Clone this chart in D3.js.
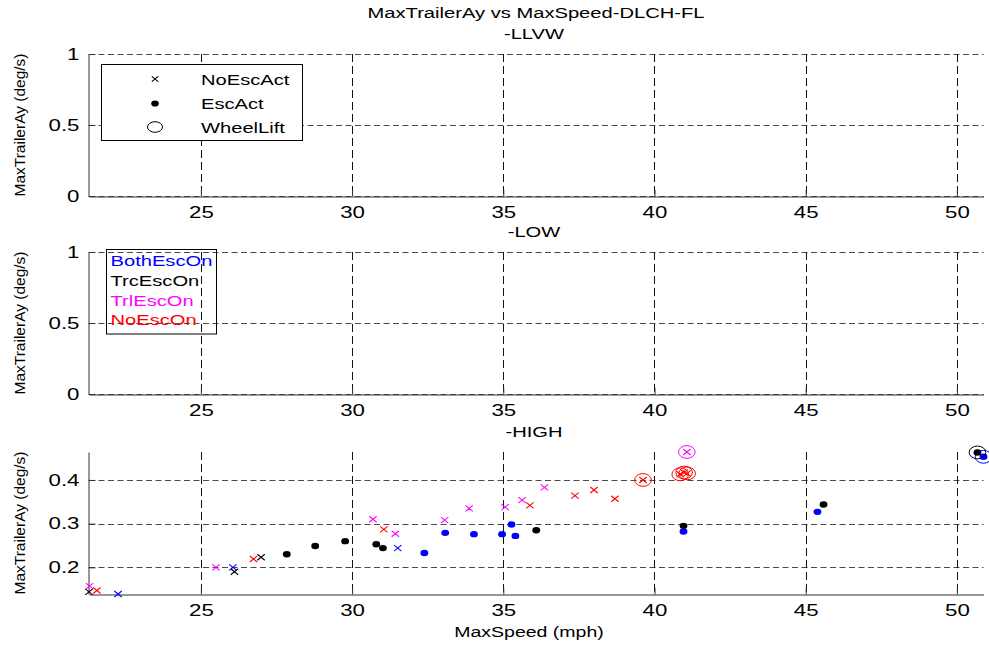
<!DOCTYPE html>
<html>
<head>
<meta charset="utf-8">
<script src="https://cdn.jsdelivr.net/npm/d3@7"></script>
<style>
  html, body { margin: 0; padding: 0; background: #fff; }
  svg { display: block; }
  text { font-family: "Liberation Sans", Arial, Helvetica, sans-serif; fill: #000; }
</style>
</head>
<body>
<svg id="chart" width="989" height="647"></svg>
<script>
// ---- Data: MaxTrailerAy (deg/s) against MaxSpeed (mph), HIGH friction runs ----
// act: 0 = no ESC activation (x), 1 = ESC activation (dot); lift: 1 = wheel lift (circle)
const bothEscOnSpeed = [22.26, 26.06, 31.51, 32.39, 33.08, 34.03, 34.96, 35.27, 35.40, 40.96, 45.39, 50.88];
const bothEscOnAy    = [0.139, 0.200, 0.244, 0.233, 0.279, 0.276, 0.276, 0.298, 0.272, 0.282, 0.327, 0.453];
const bothEscOnAct   = [0, 0, 0, 1, 1, 1, 1, 1, 1, 1, 1, 1];
const bothEscOnLift  = [0, 0, 0, 0, 0, 0, 0, 0, 0, 0, 0, 1];

const trcEscOnSpeed = [21.30, 26.11, 26.99, 27.84, 28.78, 29.77, 30.80, 31.02, 36.09, 40.96, 45.59, 50.68];
const trcEscOnAy    = [0.144, 0.190, 0.223, 0.230, 0.249, 0.260, 0.253, 0.244, 0.285, 0.295, 0.344, 0.463];
const trcEscOnAct   = [0, 0, 0, 1, 1, 1, 1, 1, 1, 1, 1, 1];
const trcEscOnLift  = [0, 0, 0, 0, 0, 0, 0, 0, 0, 0, 0, 1];

const trlEscOnSpeed = [21.32, 25.50, 30.69, 31.43, 33.06, 33.87, 35.06, 35.62, 36.36, 41.07];
const trlEscOnAy    = [0.157, 0.200, 0.310, 0.277, 0.308, 0.335, 0.338, 0.354, 0.383, 0.464];
const trlEscOnAct   = [0, 0, 0, 0, 0, 0, 0, 0, 0, 0];
const trlEscOnLift  = [0, 0, 0, 0, 0, 0, 0, 0, 0, 1];

const noEscOnSpeed = [21.56, 26.74, 31.05, 35.88, 37.37, 38.00, 38.69, 39.62, 40.85, 40.98, 41.08];
const noEscOnAy    = [0.147, 0.219, 0.287, 0.342, 0.364, 0.377, 0.357, 0.400, 0.413, 0.417, 0.415];
const noEscOnAct   = [0, 0, 0, 0, 0, 0, 0, 0, 0, 0, 0];
const noEscOnLift  = [0, 0, 0, 0, 0, 0, 0, 1, 1, 1, 1];

const seriesNames  = ["BothEscOn", "TrcEscOn", "TrlEscOn", "NoEscOn"];
const seriesColors = ["#0000ff", "#000000", "#ff00ff", "#ff0000"];
const markerNames  = ["NoEscAct", "EscAct", "WheelLift"];

const panelTitles = ["-LLVW", "-LOW", "-HIGH"];
const xTicks = [25, 30, 35, 40, 45, 50];
const yTicksUnit = [0, 0.5, 1];
const yTicksHigh = [0.2, 0.3, 0.4];

// ---- Layout ----
const svg = d3.select("#chart");
const left = 89, right = 983.5;
const panelTop = [54, 252, 452];
const panelH = 142;
const SX = 1.3;       // horizontal glyph stretch used for every label
const TICK_SX = 1.35;

const series = [
  {speed: bothEscOnSpeed, ay: bothEscOnAy, act: bothEscOnAct, lift: bothEscOnLift},
  {speed: trcEscOnSpeed,  ay: trcEscOnAy,  act: trcEscOnAct,  lift: trcEscOnLift},
  {speed: trlEscOnSpeed,  ay: trlEscOnAy,  act: trlEscOnAct,  lift: trlEscOnLift},
  {speed: noEscOnSpeed,   ay: noEscOnAy,   act: noEscOnAct,   lift: noEscOnLift}
];
const points = [];
series.forEach((s, si) => s.speed.forEach((v, i) =>
  points.push({x: v, y: s.ay[i], act: s.act[i], lift: s.lift[i], color: seriesColors[si]})));

// Tight limits around the data, shared by all three panels along x
const x = d3.scaleLinear().domain(d3.extent(points, d => d.x)).range([left, right]);

function stretched(g, str, px, py, size, anchor, sx) {
  return g.append("text")
    .attr("transform", `translate(${px},${py}) scale(${sx || SX},1)`)
    .attr("text-anchor", anchor || "middle")
    .style("font-size", size + "px")
    .text(str);
}

function drawPanel(idx, yDomain, yTicks, yFmt) {
  const top = panelTop[idx], bottom = top + panelH;
  const y = d3.scaleLinear().domain(yDomain).range([bottom, top]);
  const g = svg.append("g");

  // grid
  g.append("g").selectAll("line").data(yTicks).join("line")
    .attr("x1", left).attr("x2", right)
    .attr("y1", d => Math.round(y(d)) + 0.5).attr("y2", d => Math.round(y(d)) + 0.5)
    .attr("stroke", "#4a4a4a").attr("stroke-width", 1).attr("stroke-dasharray", "6,3.5");
  g.append("g").selectAll("line").data(xTicks).join("line")
    .attr("x1", d => Math.round(x(d)) + 0.5).attr("x2", d => Math.round(x(d)) + 0.5)
    .attr("y1", top).attr("y2", bottom)
    .attr("stroke", "#111").attr("stroke-width", 1).attr("stroke-dasharray", "8,4");

  // axes (ticks point inward, no box)
  const ax = g.append("g").attr("transform", `translate(0,${bottom + 0.5})`)
    .call(d3.axisBottom(x).tickValues(xTicks).tickSizeInner(-7).tickSizeOuter(0).tickPadding(10).tickFormat(d3.format("d")));
  const ay = g.append("g").attr("transform", `translate(${left - 0.5},0)`)
    .call(d3.axisLeft(y).tickValues(yTicks).tickSizeInner(-7).tickSizeOuter(0).tickPadding(9 / TICK_SX).tickFormat(yFmt));
  [ax, ay].forEach(a => {
    a.select(".domain").attr("stroke", "#333");
    a.selectAll(".tick line").attr("stroke", "#333");
    a.selectAll(".tick text")
      .style("font-size", "16.5px")
      .attr("fill", "#000")
      .attr("font-family", null)
      .attr("transform", `scale(${TICK_SX},1)`);
  });
  ax.selectAll(".tick text").attr("transform", null)
    .attr("transform", `scale(${TICK_SX},1)`);

  // y label
  g.append("text")
    .attr("transform", `translate(25,${(top + bottom) / 2}) rotate(-90)`)
    .attr("text-anchor", "middle")
    .style("font-size", "15.5px")
    .text("MaxTrailerAy (deg/s)");

  // panel subtitle
  stretched(g, panelTitles[idx], 534, top - 15, 15.5);
  return {g, y};
}

drawPanel(0, [0, 1], yTicksUnit, d3.format(""));
drawPanel(1, [0, 1], yTicksUnit, d3.format(""));
const high = drawPanel(2, d3.extent(points, d => d.y), yTicksHigh, d3.format(".1f"));

// overall title and x label
stretched(svg, "MaxTrailerAy vs MaxSpeed-DLCH-FL", 536, 18, 15.5);
stretched(svg, "MaxSpeed (mph)", 529, 637, 15);

// ---- Markers (drawn slightly wider than tall, like the rest of the figure) ----
function xMark(g, cx, cy, hw, hh, color) {
  g.append("path")
    .attr("d", `M${cx - hw},${cy - hh}L${cx + hw},${cy + hh}M${cx - hw},${cy + hh}L${cx + hw},${cy - hh}`)
    .attr("stroke", color).attr("stroke-width", 1.1).attr("fill", "none");
}
function dot(g, cx, cy, rx, ry, color) {
  g.append("ellipse").attr("cx", cx).attr("cy", cy).attr("rx", rx).attr("ry", ry).attr("fill", color);
}
function ring(g, cx, cy, rx, ry, color) {
  g.append("ellipse").attr("cx", cx).attr("cy", cy).attr("rx", rx).attr("ry", ry)
    .attr("fill", "none").attr("stroke", color).attr("stroke-width", 1);
}

const mg = svg.append("g");
points.forEach(p => {
  const cx = x(p.x), cy = high.y(p.y);
  if (p.act) dot(mg, cx, cy, 3.9, 3.2, p.color);
  else xMark(mg, cx, cy, 3.7, 3, p.color);
  if (p.lift) ring(mg, cx, cy, 8.3, 6.4, p.color);
});

// ---- Legend: marker meaning (top panel) ----
const lg1 = svg.append("g");
lg1.append("rect").attr("x", 101.5).attr("y", 64.5).attr("width", 201).attr("height", 76)
  .attr("fill", "#fff").attr("stroke", "#000").attr("stroke-width", 1);
const legRows = [79, 103.5, 127];
xMark(lg1, 155, legRows[0], 3.2, 2.7, "#000");
dot(lg1, 155, legRows[1], 3.8, 3.1, "#000");
ring(lg1, 155, legRows[2], 7.5, 5.3, "#000");
markerNames.forEach((n, i) => stretched(lg1, n, 201, legRows[i] + 5.6, 15.5, "start"));

// ---- Legend: ESC configuration colours (middle panel) ----
const lg2 = svg.append("g");
lg2.append("rect").attr("x", 106.5).attr("y", 249.5).attr("width", 110).attr("height", 84.5)
  .attr("fill", "none").attr("stroke", "#000").attr("stroke-width", 1);
seriesNames.forEach((n, i) =>
  stretched(lg2, n, 110.5, 266 + i * 19.8, 15.5, "start").style("fill", seriesColors[i]));
</script>
</body>
</html>
